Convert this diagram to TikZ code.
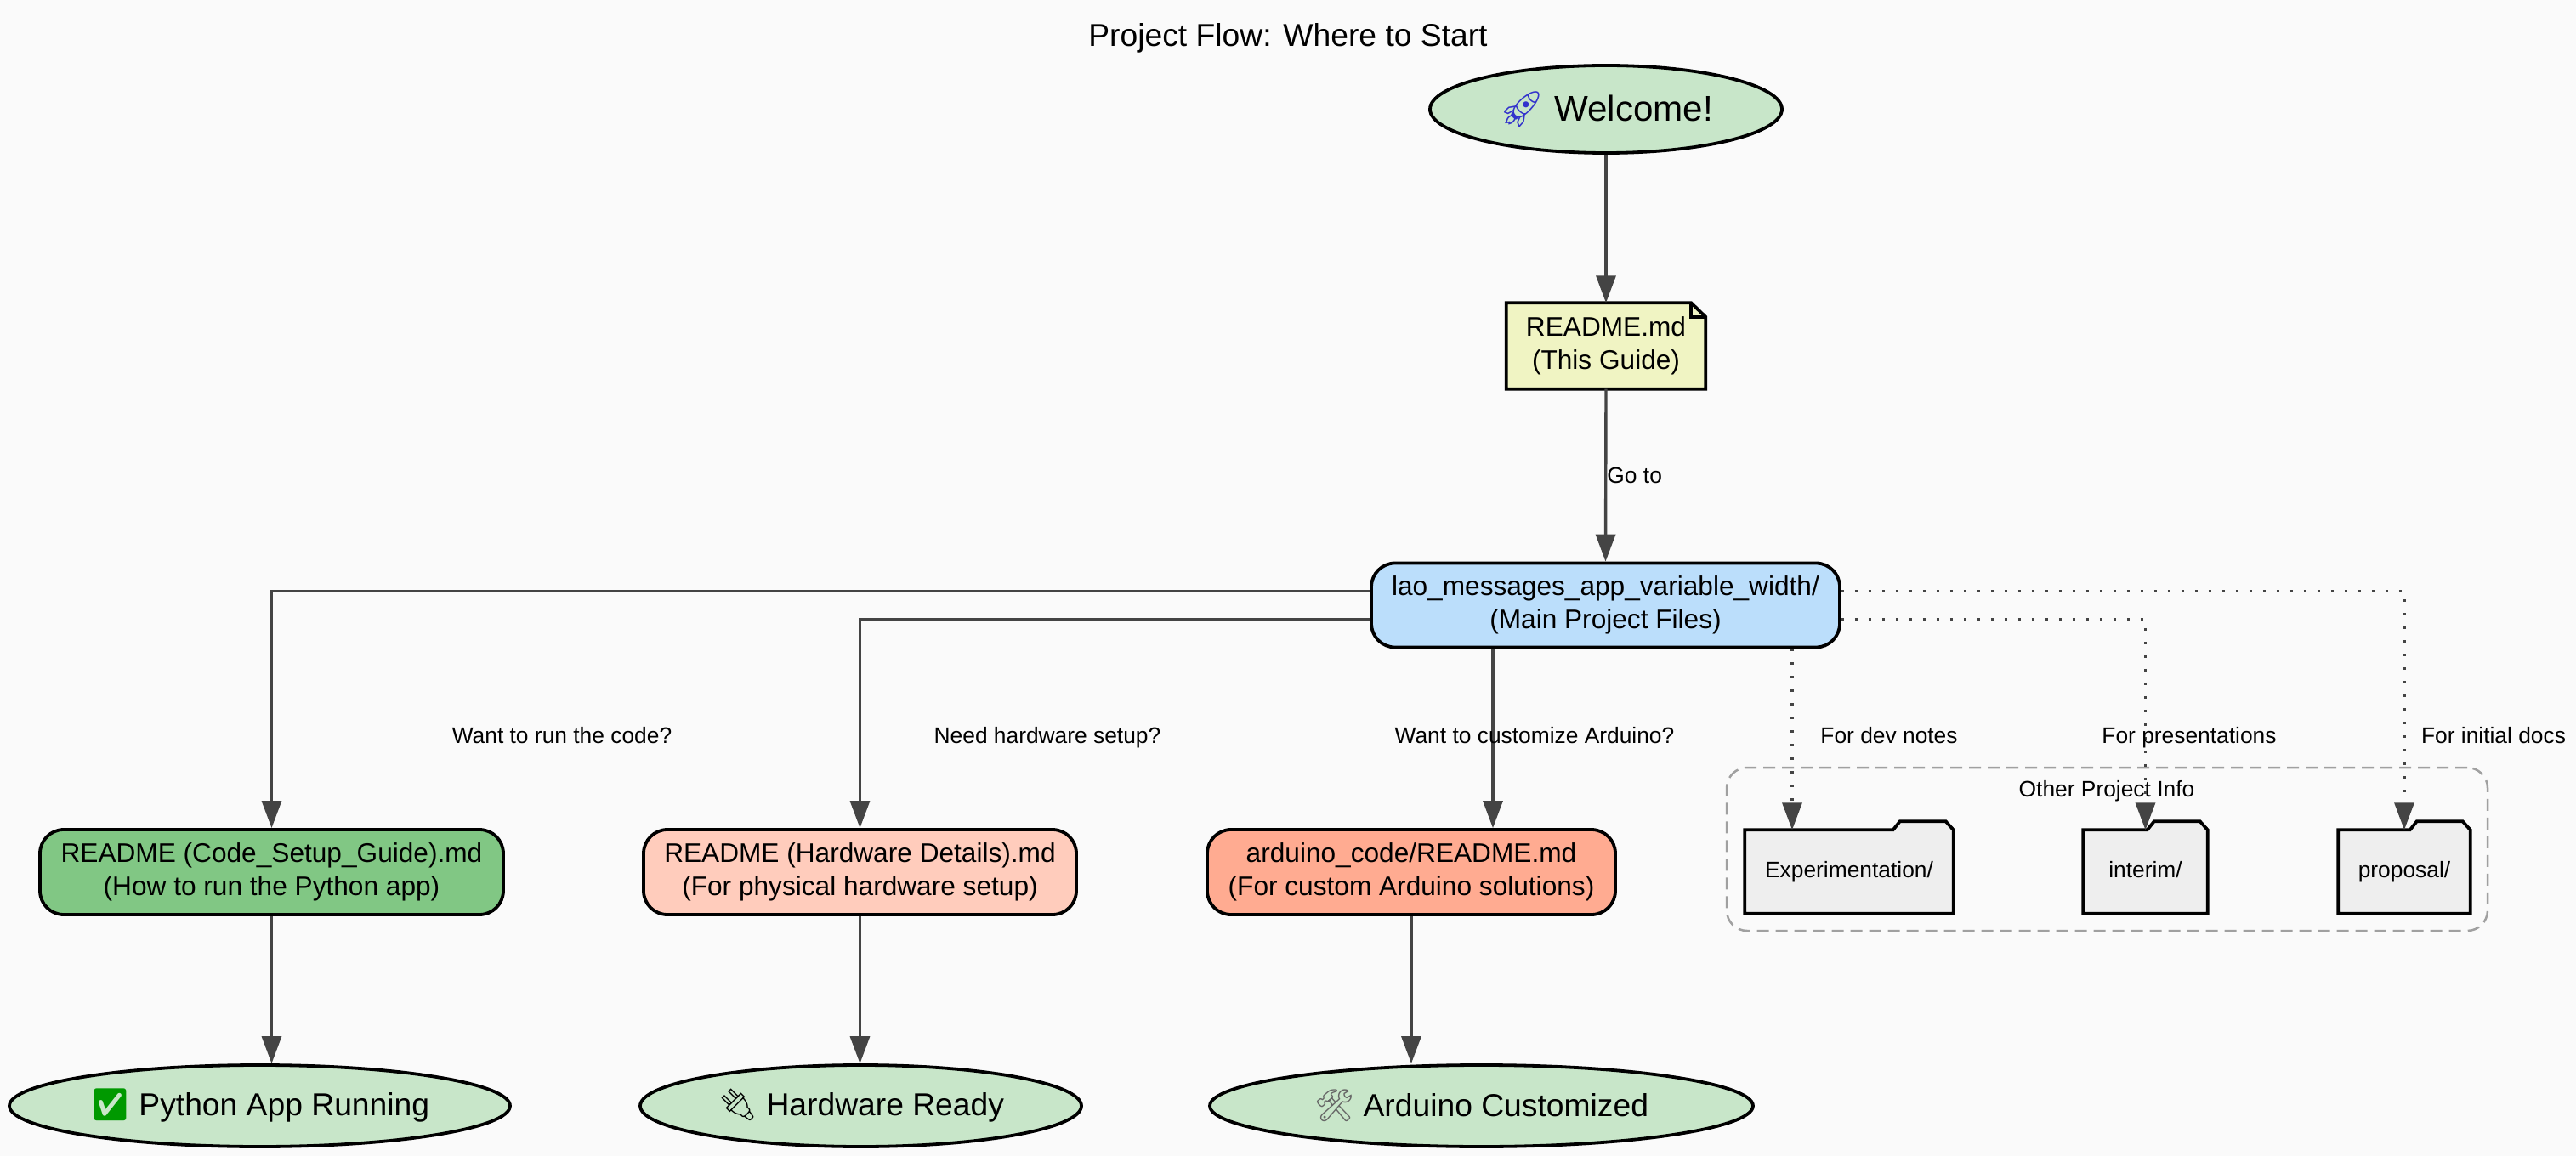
\documentclass[tikz,border=0pt]{standalone}
\usepackage{xcolor}
\usepackage{fontspec}
\setmainfont{Liberation Sans}
\newfontfamily\emojifont{Noto Emoji}
\usepackage{tikz}
\usetikzlibrary{shapes.geometric,arrows.meta,positioning,calc,backgrounds}
\definecolor{pagegray}{HTML}{FAFAFA}
\definecolor{endgreen}{HTML}{C8E6C9}
\definecolor{noteyellow}{HTML}{F0F4C3}
\definecolor{mainblue}{HTML}{BBDEFB}
\definecolor{codegreen}{HTML}{81C784}
\definecolor{hwpeach}{HTML}{FFCCBC}
\definecolor{ardsalmon}{HTML}{FFAB91}
\definecolor{foldergray}{HTML}{EEEEEE}
\definecolor{edgegray}{HTML}{444444}
\definecolor{clustergray}{HTML}{A0A0A0}
\tikzset{
  boxline/.style={draw=black,line width=0.038cm},
  endnode/.style={ellipse,boxline,fill=endgreen,inner sep=0pt,font=\fontsize{10.6}{13}\selectfont},
  docnode/.style={rectangle,rounded corners=0.28cm,boxline,inner sep=0pt,align=center,font=\fontsize{9}{11.1}\selectfont,execute at begin node={\rule{0pt}{9.2pt}}},
  notenode/.style={rectangle,inner sep=0pt,align=center,font=\fontsize{9}{11.1}\selectfont,execute at begin node={\rule{0pt}{9.2pt}}},
  dirnode/.style={rectangle,inner sep=0pt,minimum height=0.97cm,text height=1.9mm,text depth=0.5mm,font=\fontsize{7.5}{9}\selectfont},
  edgelabel/.style={inner sep=0pt,text=black,text height=2mm,text depth=0.6mm,font=\fontsize{7.5}{9}\selectfont},
  flowline/.style={edgegray,line width=0.034cm,-{Triangle[length=0.32cm,width=0.23cm]}},
  dotline/.style={flowline,dash pattern=on 0.03cm off 0.13cm},
}
% keeps the ellipse as small as its minimum size
\newcommand{\ovaltext}[1]{\makebox[0pt][c]{#1}}
\newcommand{\folderoutline}[1]{%
  \filldraw[boxline,fill=foldergray] (#1.north west) -- ($(#1.north east)+(-0.71,0)$) -- ($(#1.north east)+(-0.63,0.1)$)
    -- ($(#1.north east)+(-0.09,0.1)$) -- (#1.north east) -- (#1.south east) -- (#1.south west) -- cycle;%
}
\begin{document}
\begin{tikzpicture}
  \useasboundingbox (0,0) rectangle (30.3,-13.6);

  % Title
  \node[font=\fontsize{10.6}{13}\selectfont] (title) at (15.15,-0.45) {Project Flow: Where to Start};

  % Nodes
  \node[endnode,minimum width=4.14cm,minimum height=1.03cm,font=\fontsize{12}{14}\selectfont] (welcome) at (18.89,-1.285) {\ovaltext{{\emojifont\textcolor{blue!60!gray}{🚀}} Welcome!}};
  \node[notenode,minimum width=2.33cm,minimum height=1.0cm,below of=welcome,node distance=2.785cm] (guide) {README.md\\(This Guide)};
  \node[docnode,fill=mainblue,minimum width=5.51cm,minimum height=0.99cm] (main) at (18.885,-7.12) {lao\_messages\_app\_variable\_width/\\(Main Project Files)};

  \node[docnode,fill=codegreen,minimum width=5.45cm,minimum height=1.0cm] (codedoc) at (3.195,-10.26) {README (Code\_Setup\_Guide).md\\(How to run the Python app)};
  \node[docnode,fill=hwpeach,minimum width=5.09cm,minimum height=1.0cm] (hwdoc) at (10.115,-10.26) {README (Hardware Details).md\\(For physical hardware setup)};
  \node[docnode,fill=ardsalmon,minimum width=4.8cm,minimum height=1.0cm] (arddoc) at (16.6,-10.26) {arduino\_code/README.md\\(For custom Arduino solutions)};

  \node[endnode,minimum width=5.89cm,minimum height=0.96cm] (pyready) at (3.055,-13.01) {\ovaltext{{\emojifont\textcolor{green!60!black}{✅}} Python App Running}};
  \node[endnode,minimum width=5.19cm,minimum height=0.96cm] (hwready) at (10.125,-13.01) {\ovaltext{{\emojifont 🔌} Hardware Ready}};
  \node[endnode,minimum width=6.39cm,minimum height=0.96cm] (ardready) at (17.425,-13.01) {\ovaltext{{\emojifont\textcolor{black!60}{🛠}} Arduino Customized}};

  % Other project info
  \node[rectangle,draw=clustergray,line width=0.025cm,dash pattern=on 0.14cm off 0.08cm,rounded corners=0.24cm,inner sep=0pt,minimum width=8.95cm,minimum height=1.92cm] (infobox) at (24.785,-9.99) {};
  \node[edgelabel] (infolabel) at (24.78,-9.3) {Other Project Info};
  \node[dirnode,minimum width=2.44cm] (expdir) at (21.75,-10.255) {Experimentation/};
  \node[dirnode,minimum width=1.45cm] (intdir) at (25.235,-10.255) {interim/};
  \node[dirnode,minimum width=1.54cm] (propdir) at (28.28,-10.255) {proposal/};

  % Outlines behind the text
  \begin{scope}[on background layer]
    \fill[pagegray] (0,0) rectangle (30.3,-13.6);
    \filldraw[boxline,fill=noteyellow] (guide.north west) -- ($(guide.north east)+(-0.17,0)$) -- ($(guide.north east)+(0,-0.165)$) -- (guide.south east) -- (guide.south west) -- cycle;
    \draw[boxline] ($(guide.north east)+(-0.17,0)$) -- ($(guide.north east)+(-0.17,-0.165)$) -- ($(guide.north east)+(0,-0.165)$);
    \folderoutline{expdir}
    \folderoutline{intdir}
    \folderoutline{propdir}
  \end{scope}

  % Arrows
  \draw[flowline] (welcome.south) -- (guide.north);
  \draw[flowline] (guide.south) -- (main.north) node[right,midway,edgelabel,yshift=-0.02cm] (golabel) {Go to};
  \draw[flowline] ([yshift=0.165cm]main.west) -| (codedoc.north);
  \draw[flowline] ([yshift=-0.165cm]main.west) -| (hwdoc.north);
  \draw[flowline] ([xshift=-1.325cm]main.south) -- ([xshift=-1.325cm]main.south |- arddoc.north);
  \draw[flowline] (codedoc.south) -- (codedoc.south |- pyready.north);
  \draw[flowline] (hwdoc.south) -- (hwdoc.south |- hwready.north);
  \draw[flowline] (arddoc.south) -- (arddoc.south |- ardready.north);
  \draw[dotline] ([xshift=2.195cm]main.south) -- ([xshift=2.195cm]main.south |- expdir.north);
  \draw[dotline] ([yshift=-0.165cm]main.east) -| (intdir.north);
  \draw[dotline] ([yshift=0.165cm]main.east) -| (propdir.north);

  % Edge labels
  \node[edgelabel] (runlabel) at (6.61,-8.67) {Want to run the code?};
  \node[edgelabel] (hwlabel) at (12.32,-8.67) {Need hardware setup?};
  \node[edgelabel] (ardlabel) at (18.05,-8.67) {Want to customize Arduino?};
  \node[edgelabel] (devlabel) at (22.22,-8.67) {For dev notes};
  \node[edgelabel] (preslabel) at (25.75,-8.67) {For presentations};
  \node[edgelabel] (docslabel) at (29.33,-8.67) {For initial docs};
\end{tikzpicture}
\end{document}
